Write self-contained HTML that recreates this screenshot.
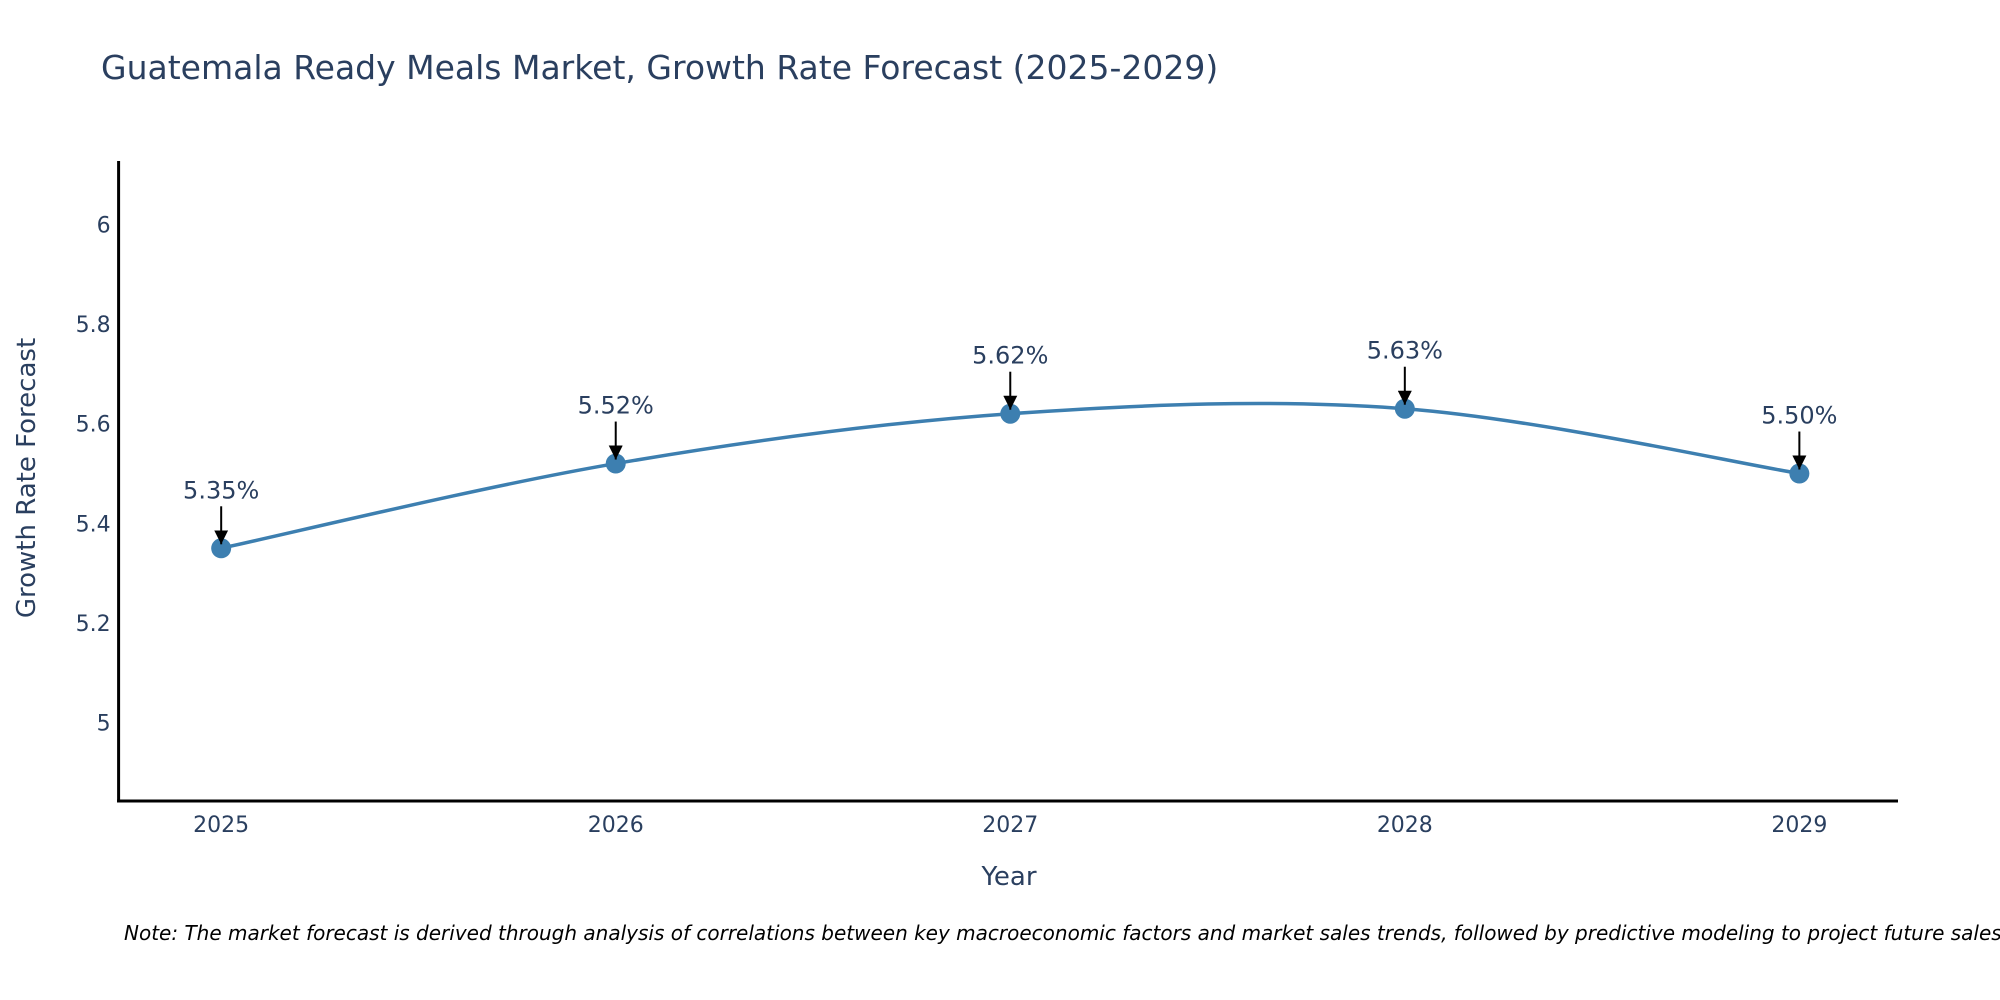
<!DOCTYPE html>
<html><head><meta charset="utf-8"><style>
html,body{margin:0;padding:0;background:#fff;}
svg{display:block;font-family:"DejaVu Sans","Liberation Sans",sans-serif;}
</style></head><body>
<svg id="chart" width="2000" height="1000" viewBox="0 0 2000 1000">
<text x="101" y="79" font-size="33" fill="#2a3f5f">Guatemala Ready Meals Market, Growth Rate Forecast (2025-2029)</text>
<g id="plot"></g>
<text x="1009" y="885" font-size="26" fill="#2a3f5f" text-anchor="middle">Year</text>
<text transform="translate(35,478) rotate(-90)" font-size="26" fill="#2a3f5f" text-anchor="middle">Growth Rate Forecast</text>
<text x="124" y="940" font-size="20" font-style="italic" fill="#000">Note: The market forecast is derived through analysis of correlations between key macroeconomic factors and market sales trends, followed by predictive modeling to project future sales.</text>
</svg>
<script>
const years = [2025, 2026, 2027, 2028, 2029];
const values = [5.35, 5.52, 5.62, 5.63, 5.50];
const labels = ["5.35%", "5.52%", "5.62%", "5.63%", "5.50%"];
const yTicks = [5, 5.2, 5.4, 5.6, 5.8, 6];
const yTickLabels = ["5", "5.2", "5.4", "5.6", "5.8", "6"];

const NS = "http://www.w3.org/2000/svg";
const L = 118.6, R = 1898, T = 161, B = 801;
const xMin = 2024.74, xMax = 2029.25, yMin = 4.843, yMax = 6.127;
const xs = v => L + (v - xMin) / (xMax - xMin) * (R - L);
const ys = v => B - (v - yMin) / (yMax - yMin) * (B - T);
const g = document.getElementById('plot');
function mk(tag, attrs) { const e = document.createElementNS(NS, tag); for (const k in attrs) e.setAttribute(k, attrs[k]); g.appendChild(e); return e; }

const defs = mk('defs', {});
defs.innerHTML = '<marker id="ah" viewBox="0 0 10 10" refX="10" refY="5" markerWidth="7" markerHeight="7" markerUnits="strokeWidth" orient="auto"><path d="M0,0 L10,5 L0,10 z" fill="#000"/></marker>';

yTicks.forEach((t, i) => {
  const e = mk('text', {x: L - 8, y: ys(t) + 8, 'font-size': 22, fill: '#2a3f5f', 'text-anchor': 'end'});
  
  
  e.textContent = yTickLabels[i];
});
years.forEach(yr => {
  const e = mk('text', {x: xs(yr), y: B + 31, 'font-size': 22, fill: '#2a3f5f', 'text-anchor': 'middle'});
  
  
  e.textContent = String(yr);
});

const yAxis = mk('line', {x1: L, y1: T, x2: L, y2: B + 1.5, stroke: '#000', 'stroke-width': 3});


const xAxis = mk('line', {x1: L - 1.5, y1: B, x2: R, y2: B, stroke: '#000', 'stroke-width': 3});



const pts = years.map((yr, i) => [xs(yr), ys(values[i])]);
let d = 'M' + pts[0][0] + ',' + pts[0][1];
for (let i = 0; i < pts.length - 1; i++) {
  const p0 = pts[Math.max(0, i - 1)], p1 = pts[i], p2 = pts[i + 1], p3 = pts[Math.min(pts.length - 1, i + 2)];
  const c1 = [p1[0] + (p2[0] - p0[0]) / 6, p1[1] + (p2[1] - p0[1]) / 6];
  const c2 = [p2[0] - (p3[0] - p1[0]) / 6, p2[1] - (p3[1] - p1[1]) / 6];
  d += ' C' + c1 + ' ' + c2 + ' ' + p2;
}
const line = mk('path', {d: d, fill: 'none', stroke: '#3d7fb0', 'stroke-width': 3.5});



pts.forEach((p, i) => {
  const c = mk('circle', {cx: p[0], cy: p[1], r: 10, fill: '#3d7fb0'});
  
  
  const a = mk('line', {x1: p[0], y1: p[1] - 42, x2: p[0], y2: p[1] - 4, stroke: '#000', 'stroke-width': 2, 'marker-end': 'url(#ah)'});
  
  
  const t = mk('text', {x: p[0], y: p[1] - 50, 'font-size': 24, fill: '#2a3f5f', 'text-anchor': 'middle'});
  
  
  t.textContent = labels[i];
});
</script>
</body></html>
